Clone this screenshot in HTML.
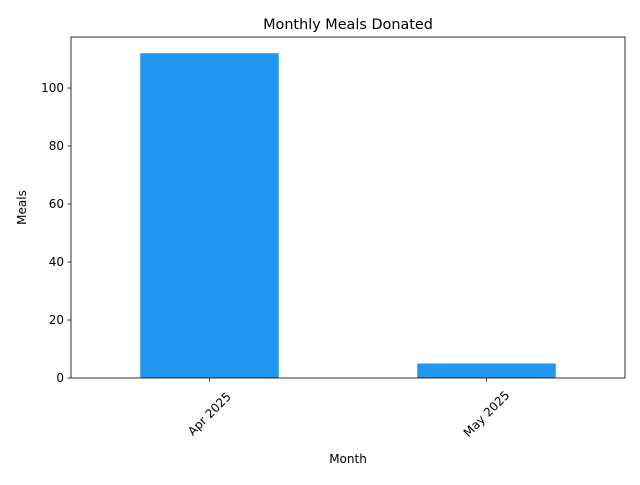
<!DOCTYPE html>
<html><head><meta charset="utf-8"><style>
body{margin:0;background:#fff;}
svg text{font-family:"DejaVu Sans","Liberation Sans",sans-serif;fill:#000;}
</style></head><body>
<svg id="chart" width="640" height="480" xmlns="http://www.w3.org/2000/svg"></svg>
<script>
const categories = ["Apr 2025", "May 2025"];
const meals = [112, 5];
const yTicks = [0, 20, 40, 60, 80, 100];

const svg = document.getElementById('chart');
const NS = 'http://www.w3.org/2000/svg';
const L = 71, R = 625, T = 37, B = 378;
const yMax = 117.6;
function y(v){ return B - v / yMax * (B - T); }
function x(i){ return L + (i + 0.5) / categories.length * (R - L); }
const bw = 0.5 / categories.length * (R - L);
function mk(tag, attrs, text){
  const e = document.createElementNS(NS, tag);
  for (const k in attrs) e.setAttribute(k, attrs[k]);
  if (text !== undefined) e.textContent = text;
  svg.appendChild(e);
  return e;
}
categories.forEach((c, i) => {
  const r = mk('rect', {x: x(i) - bw/2, y: y(meals[i]), width: bw, height: B - y(meals[i]), fill: '#2196f3'});
  
  
  const t = mk('line', {x1: x(i), x2: x(i), y1: B, y2: B + 3.5, stroke: '#000', 'stroke-width': 0.8});
  
  
  const lx = x(i), ly = B + 36;
  const lb = mk('text', {x: lx, y: ly, 'font-size': 12, 'text-anchor': 'middle', 'dominant-baseline': 'central', transform: `rotate(-45 ${lx} ${ly})`}, c);
  
  
});
yTicks.forEach(v => {
  const t = mk('line', {x1: L - 3.5, x2: L, y1: y(v), y2: y(v), stroke: '#000', 'stroke-width': 0.8});
  
  
  const lb = mk('text', {x: L - 7, y: y(v) + 4, 'font-size': 12, 'text-anchor': 'end'}, String(v));
  
  
});
const frame = mk('rect', {x: L, y: T, width: R - L, height: B - T, fill: 'none', stroke: '#000', 'stroke-width': 0.8});


const title = mk('text', {x: (L + R) / 2, y: 29, 'font-size': 14.4, 'text-anchor': 'middle'}, 'Monthly Meals Donated');


const xt = mk('text', {x: (L + R) / 2, y: 463, 'font-size': 12, 'text-anchor': 'middle'}, 'Month');


const yt = mk('text', {x: 26, y: (T + B) / 2, 'font-size': 12, 'text-anchor': 'middle', transform: `rotate(-90 26 ${(T + B) / 2})`}, 'Meals');


</script>
</body></html>
